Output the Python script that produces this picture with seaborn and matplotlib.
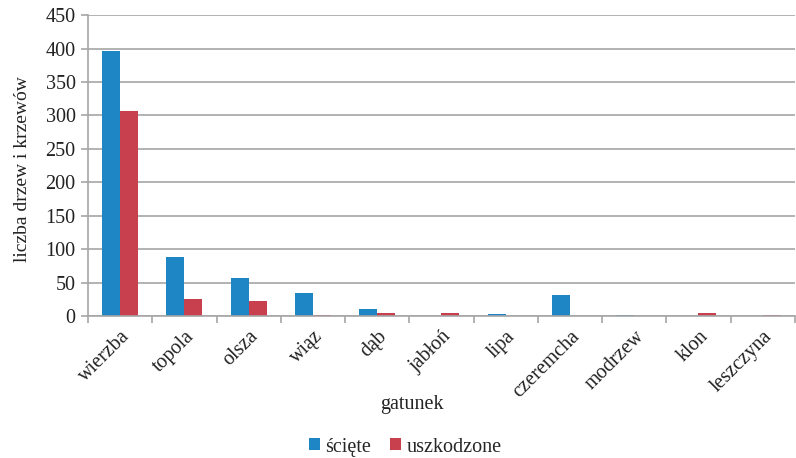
import matplotlib
matplotlib.use("Agg")
import matplotlib.pyplot as plt
import seaborn as sns
import pandas as pd
import numpy as np
from matplotlib.patches import Patch

categories = ["wierzba", "topola", "olsza", "wiąz", "dąb", "jabłoń", "lipa",
              "czeremcha", "modrzew", "klon", "leszczyna"]
sciete = [397, 89, 57, 34, 10, 0.5, 3, 31, 1, 0, 0]
uszkodzone = [306, 26, 22, 1, 5, 5, 0.5, 0, 0, 4, 1]
series_names = ["ścięte", "uszkodzone"]
colors = ["#1F86C6", "#C8404E"]

df = pd.DataFrame({
    "gatunek": categories * 2,
    "value": sciete + uszkodzone,
    "seria": [series_names[0]] * len(categories) + [series_names[1]] * len(categories),
})

sns.set_theme(style="white")
plt.rcParams["font.family"] = ["Liberation Serif", "DejaVu Serif"]

fs = 14.5
txt_c = "#222222"
fig = plt.figure(figsize=(7.96, 4.58), dpi=100)
ax = fig.add_axes([0.1106, 0.31, 0.888, 0.657])

sns.barplot(data=df, x="gatunek", y="value", hue="seria", palette=colors,
            width=0.56, gap=0, ax=ax, legend=False, saturation=1,
            edgecolor="none")

grid_c = "#A6A6A6"
ax.set_ylim(0, 450)
ax.set_xlim(-0.5, len(categories) - 0.5)
ax.set_yticks(np.arange(0, 451, 50))
ax.yaxis.grid(True, color=grid_c, linewidth=1.2)
ax.set_axisbelow(True)
for s in ["top", "right"]:
    ax.spines[s].set_visible(False)
for s in ["left", "bottom"]:
    ax.spines[s].set_color(grid_c)
    ax.spines[s].set_linewidth(1.2)

ax.tick_params(axis="y", length=5, color=grid_c, width=1.2, labelsize=fs,
               left=True, pad=4, labelcolor=txt_c)
ax.set_xticks(range(len(categories)))
ax.set_xticklabels(categories, rotation=45, ha="right", rotation_mode="anchor",
                   fontsize=fs, color=txt_c)
ax.tick_params(axis="x", which="major", length=0, pad=8)
ax.set_xticks(np.arange(-0.5, len(categories), 1), minor=True)
ax.tick_params(axis="x", which="minor", length=5, color=grid_c, width=1.2, bottom=True)

ax.set_xlabel("gatunek", fontsize=fs, color=txt_c)
ax.xaxis.set_label_coords(0.458, -0.262)
ax.set_ylabel("liczba drzew i krzewów", fontsize=14, color=txt_c)
ax.yaxis.set_label_coords(-0.0806, 0.49)

handles = [Patch(facecolor=c, edgecolor="none") for c in colors]
fig.legend(handles, series_names, loc="center", ncol=2, frameon=False,
           fontsize=fs, bbox_to_anchor=(0.509, 0.024), handlelength=0.55,
           handleheight=0.55, handletextpad=0.25, columnspacing=0.95,
           borderpad=0, borderaxespad=0)

fig.savefig("out.png", dpi=100)
